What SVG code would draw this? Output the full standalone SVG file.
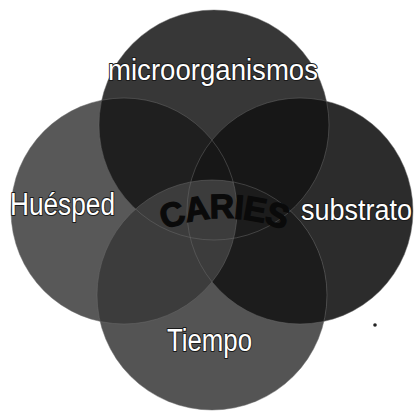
<svg xmlns="http://www.w3.org/2000/svg" xmlns:xlink="http://www.w3.org/1999/xlink" width="414" height="412" viewBox="0 0 414 412">
<style>
.lbl{font-family:"Liberation Sans",Arial,sans-serif;fill:#fff;stroke:#1a1a1a;stroke-width:2;paint-order:stroke;stroke-linejoin:round}
.caries{font-family:"Liberation Sans",Arial,sans-serif;font-weight:bold;font-size:34px;fill:#0a0a0a;stroke:#0a0a0a;stroke-width:1.2;letter-spacing:-1px}
.edge{fill:none;stroke:#6e6e6e;stroke-width:0.8;stroke-opacity:0.6}
</style>
<defs>
<circle id="cT" cx="214" cy="125" r="115"/>
<circle id="cL" cx="124" cy="211" r="113"/>
<circle id="cR" cx="300" cy="211" r="113"/>
<circle id="cB" cx="212" cy="295" r="115"/>
<clipPath id="kT"><circle cx="214" cy="125" r="115"/></clipPath>
<clipPath id="kB"><circle cx="212" cy="295" r="115"/></clipPath>
<path id="arc" d="M 140 242 A 160 160 0 0 1 308 242"/>
</defs>
<rect width="414" height="412" fill="#ffffff"/>
<g id="huesped-circle"><use xlink:href="#cL" fill="#585858"/></g>
<g id="micro-circle"><use xlink:href="#cT" fill="#373737"/></g>
<g id="substrato-circle"><use xlink:href="#cR" fill="#2c2c2c"/></g>
<g id="tiempo-circle"><use xlink:href="#cB" fill="#545454"/></g>
<g id="overlaps">
<use xlink:href="#cL" fill="#1f1f1f" clip-path="url(#kT)"/>
<use xlink:href="#cR" fill="#171717" clip-path="url(#kT)"/>
<use xlink:href="#cR" fill="#1c1c1c" clip-path="url(#kB)"/>
<use xlink:href="#cL" fill="#3c3c3c" clip-path="url(#kB)"/>
</g>
<g id="edges">
<use xlink:href="#cT" class="edge"/>
<use xlink:href="#cL" class="edge"/>
<use xlink:href="#cR" class="edge"/>
<use xlink:href="#cB" class="edge"/>
</g>
<g id="connectors"></g>
<g id="microorganismos"><text class="lbl" x="108" y="80" font-size="30" textLength="210" lengthAdjust="spacingAndGlyphs">microorganismos</text></g>
<g id="huesped"><text class="lbl" x="10" y="215" font-size="31" textLength="105" lengthAdjust="spacingAndGlyphs">Huésped</text></g>
<g id="substrato"><text class="lbl" transform="translate(301,220) scale(1,1.12)" x="0" y="0" font-size="27">substrato</text></g>
<g id="tiempo"><text class="lbl" x="167" y="351" font-size="31" textLength="85" lengthAdjust="spacingAndGlyphs">Tiempo</text></g>
<g id="caries"><text class="caries"><textPath xlink:href="#arc" startOffset="50%" text-anchor="middle">CARIES</textPath></text></g>
<circle cx="375" cy="325" r="1.8" fill="#222"/>
</svg>
